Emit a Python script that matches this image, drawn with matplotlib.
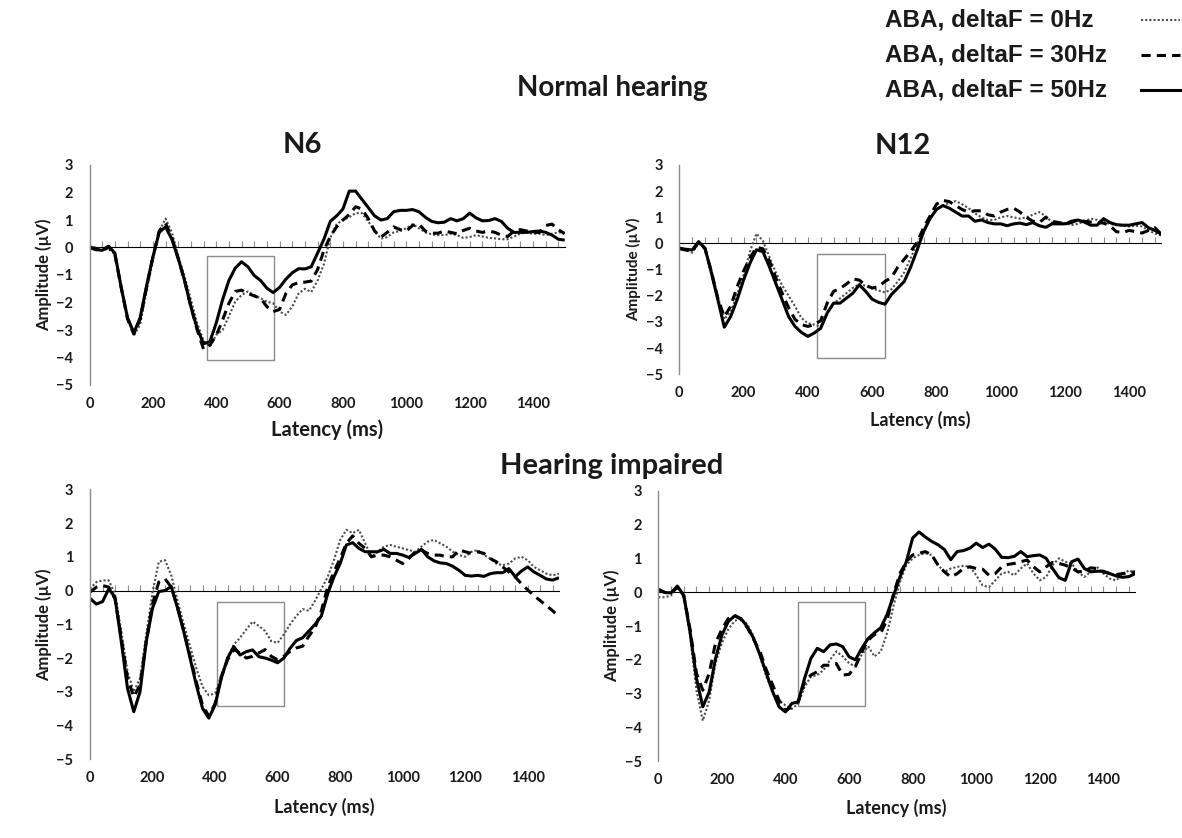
import numpy as np
import matplotlib
matplotlib.use("Agg")
import matplotlib.pyplot as plt
from matplotlib.patches import Rectangle
from matplotlib.lines import Line2D

plt.rcParams["font.family"] = ["Lato", "DejaVu Sans"]

# latency grid (ms), shared by every trace
latency = np.arange(0, 1501, 20)

# ── Normal hearing, N6 ────────────────────────────────────────────────────────
nh_n6_0hz = [0.05, 0.0, -0.1, -0.05, -0.25, -1.4, -2.6, -3.2, -2.8, -1.6,
             -0.45, 0.6, 1.05, 0.55, -0.3, -1.05, -1.9, -2.75, -3.4, -3.6,
             -3.18, -3.0, -2.5, -1.97, -1.73, -1.6, -1.73, -1.85, -1.97, -2.03,
             -2.33, -2.45, -2.15, -1.67, -1.5, -1.62, -1.2, -0.6, 0.35, 0.85,
             1.0, 1.1, 1.25, 1.25, 0.95, 0.6, 0.32, 0.38, 0.55, 0.6,
             0.7, 0.85, 0.7, 0.55, 0.48, 0.45, 0.45, 0.5, 0.45, 0.35,
             0.38, 0.45, 0.4, 0.35, 0.33, 0.3, 0.3, 0.4, 0.5, 0.55,
             0.5, 0.5, 0.45, 0.5, 0.55, 0.55]
nh_n6_30hz = [0.02, -0.05, -0.12, 0.02, -0.25, -1.45, -2.6, -3.15, -2.6, -1.45,
              -0.35, 0.6, 0.88, 0.35, -0.4, -1.2, -2.15, -3.0, -3.7, -3.55,
              -3.2, -2.64, -2.03, -1.6, -1.55, -1.67, -1.76, -1.85, -2.15, -2.33,
              -2.25, -1.67, -1.36, -1.28, -1.26, -1.22, -0.8, -0.1, 0.4, 0.75,
              1.0, 1.2, 1.48, 1.4, 1.05, 0.6, 0.38, 0.55, 0.75, 0.65,
              0.6, 0.8, 0.85, 0.6, 0.52, 0.52, 0.6, 0.55, 0.5, 0.62,
              0.7, 0.6, 0.55, 0.6, 0.55, 0.45, 0.4, 0.6, 0.65, 0.6,
              0.55, 0.55, 0.8, 0.85, 0.65, 0.5]
nh_n6_50hz = [0.0, -0.08, -0.1, 0.05, -0.2, -1.45, -2.55, -3.1, -2.55, -1.4,
              -0.35, 0.55, 0.75, 0.3, -0.4, -1.2, -2.15, -2.95, -3.5, -3.42,
              -2.75, -1.9, -1.2, -0.75, -0.52, -0.7, -1.02, -1.2, -1.48, -1.64,
              -1.45, -1.15, -0.92, -0.77, -0.78, -0.7, -0.2, 0.3, 0.95, 1.15,
              1.4, 2.05, 2.05, 1.75, 1.45, 1.15, 1.0, 1.05, 1.3, 1.35,
              1.35, 1.38, 1.3, 1.1, 0.95, 0.9, 0.92, 1.05, 0.97, 1.05,
              1.25, 1.08, 0.97, 0.98, 1.05, 0.95, 0.7, 0.55, 0.55, 0.55,
              0.58, 0.6, 0.55, 0.45, 0.3, 0.27]

# ── Normal hearing, N12 ───────────────────────────────────────────────────────
nh_n12_0hz = [-0.15, -0.25, -0.35, 0.0, -0.2, -1.0, -2.05, -2.9, -2.6, -1.95,
              -1.2, -0.3, 0.38, 0.1, -0.5, -1.1, -1.6, -2.0, -2.4, -2.85,
              -3.05, -3.1, -3.17, -2.7, -2.3, -2.1, -1.9, -1.7, -1.55, -1.62,
              -1.72, -1.8, -1.87, -1.75, -1.45, -1.1, -0.55, 0.0, 0.5, 0.95,
              1.3, 1.45, 1.55, 1.62, 1.5, 1.35, 1.15, 1.0, 0.9, 0.9,
              1.0, 1.05, 1.0, 0.95, 1.0, 1.1, 1.2, 1.05, 0.8, 0.8,
              0.78, 0.7, 0.75, 0.85, 0.95, 0.9, 0.82, 0.75, 0.7, 0.68,
              0.65, 0.68, 0.65, 0.5, 0.38, 0.3]
nh_n12_30hz = [-0.2, -0.25, -0.3, 0.05, -0.2, -1.1, -2.1, -2.8, -2.4, -1.65,
               -1.05, -0.55, -0.15, -0.2, -0.65, -1.3, -1.9, -2.45, -2.9, -3.1,
               -3.17, -3.1, -2.95, -2.28, -1.83, -1.72, -1.55, -1.35, -1.4, -1.6,
               -1.7, -1.65, -1.45, -1.3, -0.9, -0.6, -0.3, 0.05, 0.6, 1.05,
               1.5, 1.65, 1.6, 1.45, 1.3, 1.2, 1.25, 1.25, 1.1, 1.05,
               1.2, 1.3, 1.35, 1.2, 1.0, 0.85, 0.8, 1.0, 0.85, 0.8,
               0.75, 0.85, 0.9, 0.85, 0.82, 0.8, 0.78, 0.68, 0.45, 0.42,
               0.5, 0.45, 0.4, 0.5, 0.6, 0.35]
nh_n12_50hz = [-0.18, -0.22, -0.25, 0.07, -0.18, -1.13, -2.15, -3.2, -2.79, -2.15,
               -1.39, -0.75, -0.24, -0.31, -0.88, -1.52, -2.15, -2.79, -3.17, -3.4,
               -3.55, -3.42, -3.24, -2.66, -2.28, -2.28, -2.09, -1.9, -1.58, -1.83,
               -2.13, -2.25, -2.32, -1.95, -1.7, -1.45, -0.9, -0.25, 0.45, 0.95,
               1.3, 1.45, 1.35, 1.2, 1.05, 1.05, 0.85, 0.9, 0.8, 0.75,
               0.75, 0.68, 0.75, 0.78, 0.72, 0.8, 0.68, 0.62, 0.75, 0.75,
               0.75, 0.8, 0.9, 0.82, 0.7, 0.7, 0.95, 0.8, 0.72, 0.7,
               0.7, 0.75, 0.8, 0.6, 0.5, 0.35]

# ── Hearing impaired, N6 ──────────────────────────────────────────────────────
hi_n6_0hz = [0.05, 0.25, 0.3, 0.3, -0.1, -1.2, -2.4, -3.0, -2.6, -1.3,
             -0.05, 0.85, 0.9, 0.45, -0.3, -1.0, -1.65, -2.3, -2.85, -3.1,
             -3.05, -2.5, -2.0, -1.6, -1.4, -1.15, -0.92, -1.05, -1.2, -1.5,
             -1.55, -1.3, -1.0, -0.75, -0.55, -0.6, -0.3, 0.05, 0.4, 0.9,
             1.5, 1.8, 1.7, 1.8, 1.4, 1.0, 1.15, 1.3, 1.35, 1.3,
             1.25, 1.2, 1.15, 1.3, 1.45, 1.5, 1.4, 1.3, 1.15, 1.05,
             1.0, 1.15, 1.2, 1.05, 0.95, 0.8, 0.75, 0.8, 0.95, 1.0,
             0.9, 0.7, 0.6, 0.5, 0.45, 0.5]
hi_n6_30hz = [-0.05, 0.1, 0.15, 0.1, -0.25, -1.4, -2.6, -3.15, -2.8, -1.5,
              -0.4, 0.25, 0.35, 0.1, -0.5, -1.2, -1.95, -2.7, -3.4, -3.72,
              -3.35, -2.55, -2.05, -1.75, -1.85, -2.0, -1.95, -1.85, -1.75, -1.95,
              -2.05, -1.95, -1.8, -1.7, -1.65, -1.35, -1.1, -0.6, 0.1, 0.55,
              0.95, 1.4, 1.62, 1.4, 1.25, 1.0, 1.05, 1.05, 1.0, 0.9,
              0.8, 0.95, 1.15, 1.2, 1.1, 1.05, 1.05, 1.0, 1.0, 1.2,
              1.15, 1.1, 1.15, 1.1, 0.95, 0.85, 0.7, 0.55, 0.4, 0.2,
              0.02, -0.15, -0.3, -0.45, -0.6, -0.78]
hi_n6_50hz = [-0.23, -0.4, -0.33, 0.05, -0.2, -1.51, -2.9, -3.59, -3.0, -1.51,
              -0.52, -0.03, 0.0, 0.12, -0.52, -1.22, -2.0, -2.8, -3.49, -3.78,
              -3.39, -2.6, -2.0, -1.66, -1.91, -1.81, -1.76, -1.96, -2.0, -2.06,
              -2.14, -2.0, -1.71, -1.48, -1.4, -1.2, -1.0, -0.75, -0.1, 0.4,
              0.8, 1.35, 1.42, 1.25, 1.15, 1.15, 1.15, 1.22, 1.1, 1.1,
              1.05, 0.98, 1.1, 1.22, 1.0, 0.88, 0.82, 0.8, 0.72, 0.6,
              0.45, 0.43, 0.45, 0.42, 0.5, 0.53, 0.53, 0.65, 0.41, 0.58,
              0.7, 0.55, 0.45, 0.34, 0.31, 0.38]

# ── Hearing impaired, N12 ─────────────────────────────────────────────────────
hi_n12_0hz = [-0.15, -0.15, -0.1, 0.15, -0.15, -1.3, -2.9, -3.8, -3.2, -2.1,
              -1.5, -1.1, -0.85, -0.78, -0.95, -1.3, -1.9, -2.5, -2.95, -3.2,
              -3.35, -3.45, -3.3, -2.8, -2.5, -2.45, -2.3, -2.0, -1.75, -1.9,
              -2.1, -2.2, -1.85, -1.6, -1.9, -1.75, -1.2, -0.4, 0.3, 0.8,
              1.0, 1.1, 1.15, 1.1, 0.8, 0.6, 0.7, 0.75, 0.78, 0.75,
              0.5, 0.2, 0.15, 0.35, 0.55, 0.6, 0.5, 0.7, 0.85, 0.55,
              0.35, 0.45, 0.8, 1.0, 0.9, 0.85, 0.6, 0.45, 0.6, 0.75,
              0.55, 0.4, 0.35, 0.5, 0.65, 0.55]
hi_n12_30hz = [0.05, 0.0, -0.05, 0.15, -0.1, -1.1, -2.4, -2.9, -2.4, -1.5,
               -1.1, -0.78, -0.68, -0.8, -1.05, -1.4, -1.76, -2.3, -2.75, -3.2,
               -3.5, -3.39, -3.24, -2.65, -2.45, -2.35, -2.16, -2.16, -2.11, -2.45,
               -2.43, -2.2, -1.76, -1.42, -1.25, -1.2, -0.8, -0.05, 0.55, 0.9,
               1.1, 1.15, 1.2, 1.1, 0.8, 0.6, 0.45, 0.55, 0.7, 0.75,
               0.7, 0.68, 0.5, 0.55, 0.75, 0.82, 0.85, 0.9, 0.95, 0.75,
               0.6, 0.75, 0.88, 0.85, 0.8, 0.72, 0.6, 0.62, 0.72, 0.7,
               0.6, 0.55, 0.52, 0.55, 0.58, 0.6]
hi_n12_50hz = [0.09, -0.01, -0.02, 0.18, -0.09, -1.17, -2.55, -3.39, -2.95, -1.96,
               -1.27, -0.87, -0.7, -0.78, -1.02, -1.37, -1.86, -2.4, -2.95, -3.39,
               -3.54, -3.29, -3.24, -2.55, -1.96, -1.66, -1.76, -1.56, -1.53, -1.61,
               -1.91, -2.0, -1.66, -1.37, -1.2, -1.05, -0.65, -0.1, 0.45, 0.9,
               1.6, 1.78, 1.63, 1.5, 1.4, 1.26, 0.96, 1.2, 1.23, 1.3,
               1.45, 1.32, 1.42, 1.27, 1.03, 1.02, 1.06, 1.2, 1.05, 1.08,
               1.1, 1.0, 0.7, 0.43, 0.35, 0.9, 0.98, 0.7, 0.6, 0.62,
               0.62, 0.55, 0.48, 0.44, 0.46, 0.55]

# analysis windows (ms, µV)
windows = {
    "nh_n6": (370, 582, -4.09, -0.30),
    "nh_n12": (429, 641, -4.39, -0.42),
    "hi_n6": (406, 621, -3.42, -0.35),
    "hi_n12": (438, 650, -3.37, -0.30),
}

legend_labels = ["ABA, deltaF = 0Hz", "ABA, deltaF = 30Hz", "ABA, deltaF = 50Hz"]
xtick_vals = [0, 200, 400, 600, 800, 1000, 1200, 1400]
ytick_vals = [3, 2, 1, 0, -1, -2, -3, -4, -5]

W, H = 1182, 838
GREY = "#8c8c8c"
INK = "#1a1a1a"
styles = [
    dict(color="#4d4d4d", lw=1.5, ls=(0, (1, 1))),
    dict(color="black", lw=2.2, ls=(0, (3, 2))),
    dict(color="black", lw=2.2, ls="-"),
]

fig = plt.figure(figsize=(W / 100, H / 100), dpi=100)


def px_rect(left, right, top, bottom):
    return [left / W, 1 - bottom / H, (right - left) / W, (bottom - top) / H]


# pixel boxes: (left @0ms, right @1500ms, top @3µV, bottom @-5µV),
# latency label y, latency label size, amplitude label size
panels = [
    ("nh_n6", (89.5, 564.7, 165, 385), [nh_n6_0hz, nh_n6_30hz, nh_n6_50hz], 430, 14.5, 12),
    ("nh_n12", (679.3, 1161.4, 165, 374.3), [nh_n12_0hz, nh_n12_30hz, nh_n12_50hz], 420, 13, 11),
    ("hi_n6", (90, 559, 489.3, 759.3), [hi_n6_0hz, hi_n6_30hz, hi_n6_50hz], 807, 13, 12),
    ("hi_n12", (658.3, 1135.2, 490.7, 761.3), [hi_n12_0hz, hi_n12_30hz, hi_n12_50hz], 808, 13, 12),
]

for key, (l, r, t, b), traces, lat_y, lat_fs, amp_fs in panels:
    ax = fig.add_axes(px_rect(l, r, t, b))
    ax.set_xlim(0, 1500)
    ax.set_ylim(-5, 3)
    for vals, st in zip(traces, styles):
        ax.plot(latency, vals, solid_capstyle="butt", dash_capstyle="butt", **st)

    x0, x1, y0, y1 = windows[key]
    ax.add_patch(Rectangle((x0, y0), x1 - x0, y1 - y0, fill=False,
                           ec=GREY, lw=1.0, zorder=1))

    for side in ("top", "right", "bottom"):
        ax.spines[side].set_visible(False)
    ax.spines["left"].set_color(GREY)
    ax.spines["left"].set_linewidth(1.0)

    ax.set_xticks(xtick_vals)
    ax.set_yticks(ytick_vals)
    ax.tick_params(axis="x", length=0, pad=8.5, labelsize=10.5, labelcolor=INK)
    ax.tick_params(axis="y", length=0, pad=12, labelsize=10.5, labelcolor=INK)
    for lab in ax.get_xticklabels() + ax.get_yticklabels():
        lab.set_fontweight("bold")

    # zero line with small tick marks
    zax = ax.secondary_xaxis(5 / 8)
    zax.spines["bottom"].set_color(GREY)
    zax.spines["bottom"].set_linewidth(1.0)
    zax.set_xticks(np.arange(40, 1500, 40))
    zax.tick_params(axis="x", direction="out", length=4, width=0.8,
                    color=GREY, labelbottom=False, labeltop=False)

    fig.text((l - 46) / W, 1 - (t + b) / 2 / H, "Amplitude (µV)", rotation=90,
             ha="center", va="center", fontsize=amp_fs, fontweight="bold", color=INK)
    fig.text((l + r) / 2 / W, 1 - lat_y / H, "Latency (ms)", ha="center",
             va="center", fontsize=lat_fs, fontweight="bold", color=INK)

fig.text(302 / W, 1 - 145 / H, "N6", ha="center", va="center",
         fontsize=21, fontweight="bold", color=INK)
fig.text(903 / W, 1 - 146 / H, "N12", ha="center", va="center",
         fontsize=21, fontweight="bold", color=INK)
fig.text(612 / W, 1 - 88 / H, "Normal hearing", ha="center", va="center",
         fontsize=20, fontweight="bold", color=INK)
fig.text(612 / W, 1 - 466 / H, "Hearing impaired", ha="center", va="center",
         fontsize=21, fontweight="bold", color=INK)

# legend drawn by hand in the top right corner
for i, (lab, st) in enumerate(zip(legend_labels, styles)):
    yc = 1 - (20 + 35 * i) / H
    fig.text(885 / W, yc, lab, ha="left", va="center", fontsize=17.5,
             fontweight="bold", family="Liberation Sans", color=INK)
    fig.add_artist(Line2D([1141 / W, 1180 / W], [yc, yc],
                          transform=fig.transFigure, **st))

fig.savefig("out.png", dpi=100)
